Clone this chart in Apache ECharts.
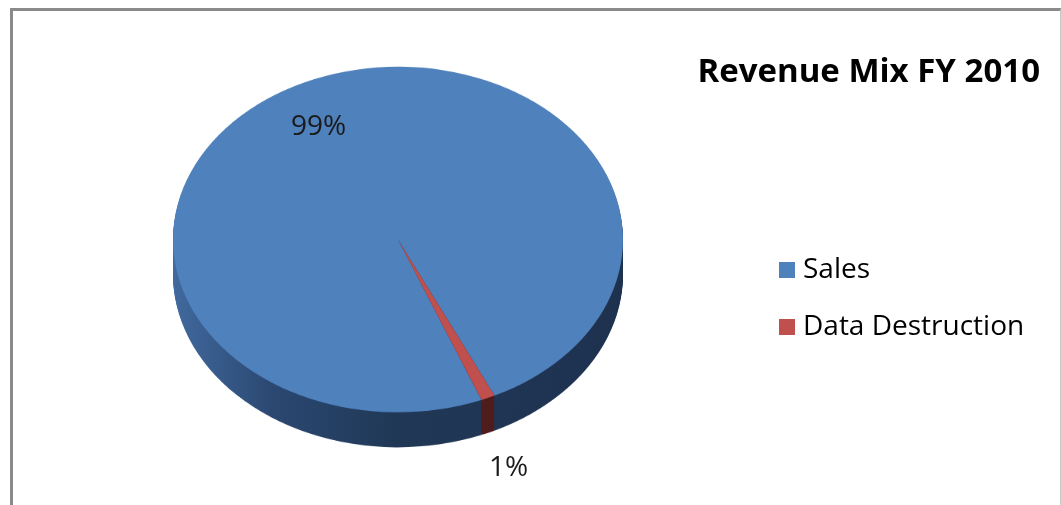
<!DOCTYPE html>
<html>
<head>
<meta charset="utf-8">
<script src="https://cdn.jsdelivr.net/npm/echarts@6/dist/echarts.min.js"></script>
<style>
  html, body { margin: 0; padding: 0; background: #fff; }
  #wrap { position: relative; width: 1061px; height: 505px; overflow: hidden; background: #fff; }
  #frame { position: absolute; left: 10px; top: 8px; width: 1047px; height: 520px;
           border-left: 3px solid #8a8a8a; border-top: 3px solid #8a8a8a; border-right: 1px solid #c8c8c8; }
  #pie { position: absolute; left: 0; top: 0; width: 1061px; height: 660px;
         transform-origin: 0 0; transform: scaleY(0.768); }
  #overlay { position: absolute; left: 0; top: 0; width: 1061px; height: 505px; }
</style>
</head>
<body>
<div id="wrap">
  <div id="frame"></div>
  <div id="pie"></div>
  <div id="overlay"></div>
</div>
<script>
// ---- data ----
const categories = ['Sales', 'Data Destruction'];
const values = [99, 1];
const chartTitle = 'Revenue Mix FY 2010';

// ---- style ----
const topColors = ['#4f81bd', '#c0504d'];
const sideColors = [
  { type: 'linear', x: 0, y: 0, x2: 1, y2: 0, colorStops: [
    { offset: 0, color: '#416a9e' }, { offset: 0.22, color: '#2b4872' },
    { offset: 0.5, color: '#203856' }, { offset: 1, color: '#1e3250' } ] },
  { type: 'linear', x: 0, y: 0, x2: 1, y2: 0, colorStops: [
    { offset: 0, color: '#622424' }, { offset: 1, color: '#4e1c1c' } ] }
];
const SCALE = 0.768;
const CX = 398, CY = 239.5 / SCALE, R = 225;
const DEPTH = 35 / SCALE, LAYERS = 28;
const START = 291.8;

const pieData = (cols) => categories.map((c, i) => ({ name: c, value: values[i], itemStyle: { color: cols[i] } }));

const series = [];
for (let k = LAYERS; k >= 1; k--) {
  series.push({
    type: 'pie', silent: true, z: 1, animation: false,
    center: [CX, CY + DEPTH * k / LAYERS], radius: R,
    startAngle: START, clockwise: true,
    label: { show: false }, labelLine: { show: false },
    emphasis: { disabled: true },
    itemStyle: { borderWidth: 0 },
    data: pieData(sideColors)
  });
}
series.push({
  type: 'pie', silent: true, z: 2, animation: false,
  center: [CX, CY], radius: R,
  startAngle: START, clockwise: true,
  label: { show: false }, labelLine: { show: false },
  emphasis: { disabled: true },
  itemStyle: { borderWidth: 0 },
  data: pieData(topColors)
});

const pieChart = echarts.init(document.getElementById('pie'), null, { renderer: 'canvas' });
pieChart.setOption({ animation: false, series: series });

// ---- overlay: title, legend, labels ----
const total = values.reduce((a, b) => a + b, 0);
const pct = values.map(v => Math.round(v / total * 100) + '%');
const FONT = '"Open Sans", "Liberation Sans", sans-serif';

const overlay = echarts.init(document.getElementById('overlay'));
overlay.setOption({
  animation: false,
  title: {
    text: chartTitle, right: 16, top: 51,
    textStyle: { fontFamily: FONT, fontSize: 33, fontWeight: 'bold', color: '#000' }
  },
  legend: {
    orient: 'vertical', left: 774, top: 251,
    itemWidth: 16, itemHeight: 16, itemGap: 29, icon: 'rect',
    textStyle: { fontFamily: FONT, fontSize: 28, color: '#000', padding: [0, 0, 0, 3] },
    data: categories
  },
  color: topColors,
  series: [{
    type: 'pie', radius: 0, center: [-100, -100], silent: true,
    label: { show: false }, labelLine: { show: false },
    data: categories.map((c, i) => ({ name: c, value: values[i] }))
  }],
  graphic: [
    { type: 'text', left: 291, top: 113, style: { text: pct[0], font: '28px ' + FONT, fill: '#1a1a1a' } },
    { type: 'text', left: 489, top: 454, style: { text: pct[1], font: '28px ' + FONT, fill: '#1a1a1a' } }
  ]
});
</script>
</body>
</html>
